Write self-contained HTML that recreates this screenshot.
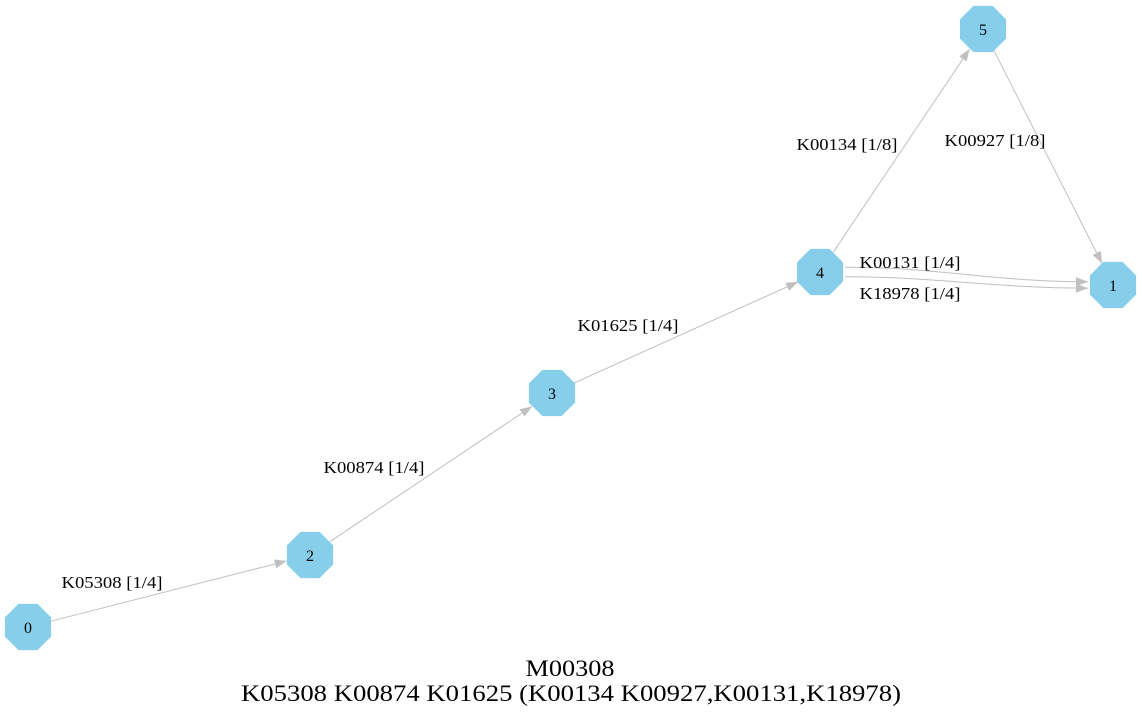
<!DOCTYPE html>
<html><head><meta charset="utf-8"><style>
html,body{margin:0;padding:0;background:#fff;}
svg{display:block;font-family:"Liberation Serif",serif;}
</style></head><body>
<svg id="g" width="1142" height="719" viewBox="0 0 1142 719">
<defs><marker id="ah" markerWidth="12" markerHeight="9" refX="12" refY="4.5" orient="auto" markerUnits="userSpaceOnUse"><path d="M0,0 L12,4.5 L0,9 Z" fill="#c0c0c0"/></marker></defs>
<text x="570" y="676" text-anchor="middle" font-size="23" textLength="89" lengthAdjust="spacingAndGlyphs">M00308</text>
<text x="571" y="701" text-anchor="middle" font-size="23" textLength="660" lengthAdjust="spacingAndGlyphs">K05308 K00874 K01625 (K00134 K00927,K00131,K18978)</text>
</svg>
<script>
const nodeIds=["0","2","3","4","5","1"];
const nodeX=[28,310,552,820,983,1113];
const nodeY=[627,555,393,272,29,285];
const edgeFrom=["0","2","3","4","5","4","4"];
const edgeTo=["2","3","4","5","1","1","1"];
const edgeLabels=["K05308 [1/4]","K00874 [1/4]","K01625 [1/4]","K00134 [1/8]","K00927 [1/8]","K00131 [1/4]","K18978 [1/4]"];
const edgeBend=[0,0,0,0,0,-8,8];
const labelPos=[[112,588],[374,473],[628,331],[847,150],[995,146],[910,268],[910,299]];
const svg=document.getElementById('g');
const NS='http://www.w3.org/2000/svg';
const R=24;
function pos(id){const i=nodeIds.indexOf(id);return [nodeX[i],nodeY[i]];}
edgeFrom.forEach((f,i)=>{
  const [x1,y1]=pos(f),[x2,y2]=pos(edgeTo[i]);
  const dx=x2-x1,dy=y2-y1,L=Math.hypot(dx,dy),ux=dx/L,uy=dy/L;
  const sx=x1+ux*R,sy=y1+uy*R,ex=x2-ux*R,ey=y2-uy*R;
  const b=edgeBend[i];
  const p=document.createElementNS(NS,'path');
  let d;
  if(b){const ys=y1+b*0.6,ye=y2+b*0.4;d=`M${x1+25},${ys} C${x1+120},${ys} ${x2-120},${ye} ${x2-25},${ye}`;}
  else d=`M${sx},${sy} L${ex},${ey}`;
  p.setAttribute('d',d);p.setAttribute('stroke','#c0c0c0');p.setAttribute('fill','none');p.setAttribute('stroke-width','1');p.setAttribute('marker-end','url(#ah)');
  
  
  svg.appendChild(p);
  const t=document.createElementNS(NS,'text');
  t.setAttribute('x',labelPos[i][0]);t.setAttribute('y',labelPos[i][1]);t.setAttribute('font-size','17');
  t.setAttribute('text-anchor','middle');
  t.setAttribute('textLength','101');t.setAttribute('lengthAdjust','spacingAndGlyphs');
  t.textContent=edgeLabels[i];
  
  
  svg.appendChild(t);
});
nodeIds.forEach((id,i)=>{
  const cx=nodeX[i],cy=nodeY[i];
  const pts=[];for(let k=0;k<8;k++){const a=Math.PI/8+k*Math.PI/4;pts.push((cx+R*1.04*Math.cos(a)).toFixed(1)+','+(cy+R*1.04*Math.sin(a)).toFixed(1));}
  const g=document.createElementNS(NS,'polygon');
  g.setAttribute('points',pts.join(' '));g.setAttribute('fill','#87ceeb');
  
  
  svg.appendChild(g);
  const t=document.createElementNS(NS,'text');
  t.setAttribute('x',cx);t.setAttribute('y',cy+6);t.setAttribute('text-anchor','middle');t.setAttribute('font-size','16');t.textContent=id;
  
  
  svg.appendChild(t);
});
</script>
</body></html>
